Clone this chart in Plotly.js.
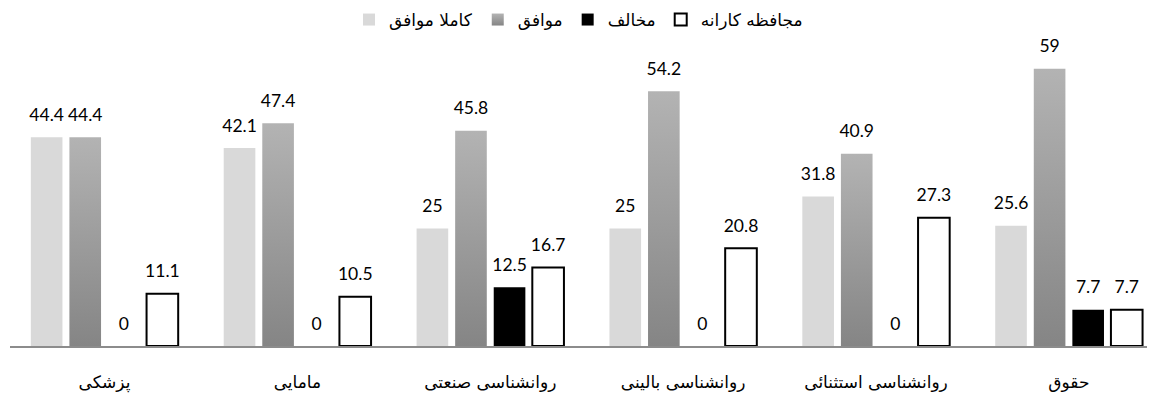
<!DOCTYPE html>
<html>
<head>
<meta charset="utf-8">
<script src="https://cdn.plot.ly/plotly-3.0.1.min.js"></script>
<style>
html,body{margin:0;padding:0;background:#fff;}
#chart{width:1157px;height:398px;}
</style>
</head>
<body>
<div id="chart"></div>
<script>
const categories = ['پزشکی', 'مامایی', 'روانشناسی صنعتی', 'روانشناسی بالینی', 'روانشناسی استثنائی', 'حقوق'];
const seriesNames = ['کاملا موافق', 'موافق', 'مخالف', 'مجافظه کارانه'];
const fullyAgree = [44.4, 42.1, 25, 25, 31.8, 25.6];
const agree = [44.4, 47.4, 45.8, 54.2, 40.9, 59];
const disagree = [0, 0, 12.5, 0, 0, 7.7];
const conservative = [11.1, 10.5, 16.7, 20.8, 27.3, 7.7];

const numFont = {family: 'Lato, "Open Sans", sans-serif', size: 17.5, color: '#000'};
const LABEL_PAD = 2.0; // extra gap (in value units) between a bar top and its label

function bars(name, vals, marker, grp) {
  return {
    type: 'bar', name: name, x: categories, y: vals, offsetgroup: grp,
    marker: marker, textposition: 'none', hoverinfo: 'x+y+name'
  };
}
function labels(vals, grp) {
  return {
    type: 'bar', x: categories, y: vals.map(() => LABEL_PAD), base: vals, offsetgroup: grp,
    marker: {color: 'rgba(0,0,0,0)', line: {width: 0}},
    text: vals.map(v => String(v)), textposition: 'outside', constraintext: 'none',
    textfont: numFont, cliponaxis: false, showlegend: false, hoverinfo: 'skip'
  };
}

const data = [
  bars(seriesNames[0], fullyAgree, {color: '#d9d9d9', line: {width: 0}}, 'a'),
  bars(seriesNames[1], agree, {color: '#9e9e9e', line: {width: 0}}, 'b'),
  bars(seriesNames[2], disagree, {color: '#000000', line: {width: 0}}, 'c'),
  bars(seriesNames[3], conservative, {color: '#ffffff', line: {color: '#000000', width: 2}}, 'd'),
  labels(fullyAgree, 'a'),
  labels(agree, 'b'),
  labels(disagree, 'c'),
  labels(conservative, 'd')
];

const layout = {
  width: 1157, height: 398,
  margin: {l: 10, r: 10, t: 40, b: 52},
  paper_bgcolor: '#fff', plot_bgcolor: '#fff',
  barmode: 'group', bargap: 0.2, bargroupgap: 0.18,
  showlegend: true,
  legend: {
    orientation: 'h', x: 0.5, xanchor: 'center', y: 0.995, yanchor: 'top',
    yref: 'container',
    font: {family: '"DejaVu Sans", sans-serif', size: 17, color: '#000'},
    itemwidth: 30, traceorder: 'normal'
  },
  xaxis: {
    range: [-0.49, 5.405],
    showline: true, linecolor: '#8c8c8c', linewidth: 2,
    showgrid: false, zeroline: false, ticks: '',
    ticklabelstandoff: 20,
    tickfont: {family: '"DejaVu Sans", sans-serif', size: 17, color: '#000'}
  },
  yaxis: {
    range: [0, 65.1], visible: false, showgrid: false, zeroline: false
  }
};

Plotly.newPlot('chart', data, layout, {displayModeBar: false, staticPlot: true}).then(gd => {
  const svg = gd.querySelector('svg.main-svg');
  const NS = 'http://www.w3.org/2000/svg';
  let defs = svg.querySelector('defs');
  if (!defs) { defs = document.createElementNS(NS, 'defs'); svg.insertBefore(defs, svg.firstChild); }
  const g = document.createElementNS(NS, 'linearGradient');
  g.setAttribute('id', 'agreeGrad');
  g.setAttribute('x1', '0'); g.setAttribute('y1', '0'); g.setAttribute('x2', '0'); g.setAttribute('y2', '1');
  const s1 = document.createElementNS(NS, 'stop'); s1.setAttribute('offset', '0'); s1.setAttribute('stop-color', '#b3b3b3');
  const s2 = document.createElementNS(NS, 'stop'); s2.setAttribute('offset', '1'); s2.setAttribute('stop-color', '#858585');
  g.appendChild(s1); g.appendChild(s2); defs.appendChild(g);
  const traces = gd.querySelectorAll('.barlayer .trace');
  if (traces[1]) traces[1].querySelectorAll('.point path').forEach(p => { p.style.fill = 'url(#agreeGrad)'; });
  const legTraces = gd.querySelectorAll('.legend .traces');
  if (legTraces[1]) legTraces[1].querySelectorAll('.legendpoints path').forEach(p => { p.style.fill = 'url(#agreeGrad)'; });
});
</script>
</body>
</html>
